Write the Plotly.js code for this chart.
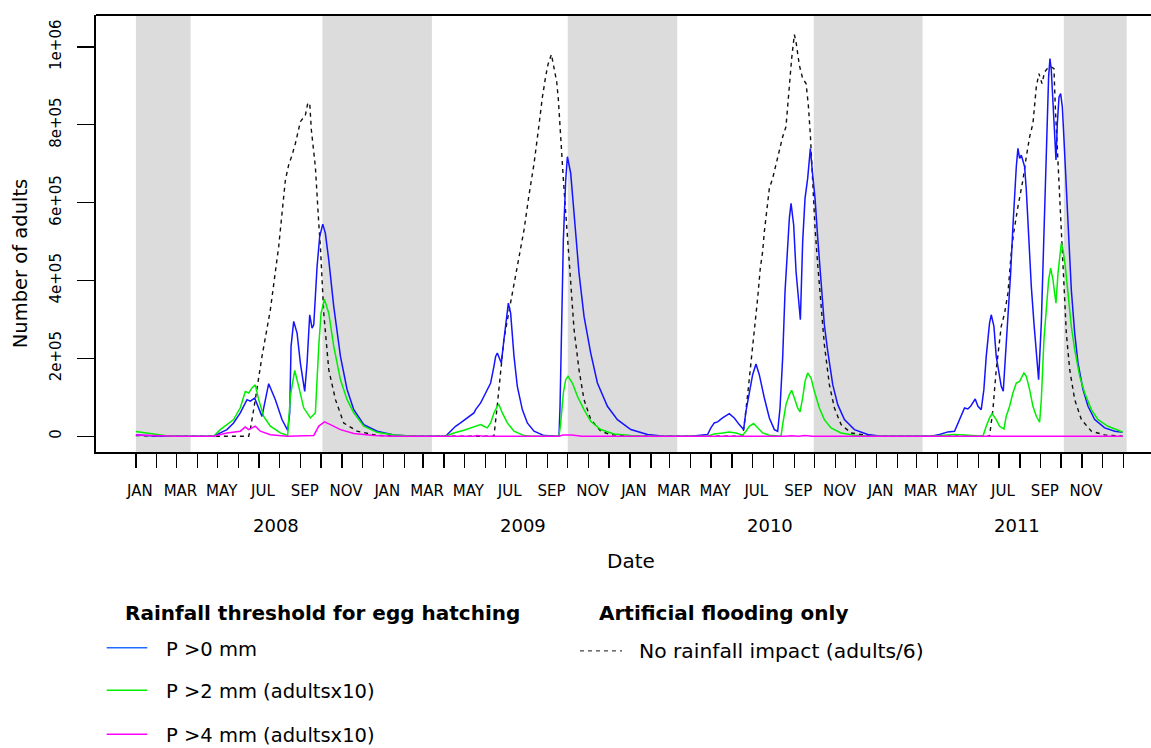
<!DOCTYPE html>
<html>
<head>
<meta charset="utf-8">
<script src="https://cdn.plot.ly/plotly-3.0.1.min.js"></script>
<style>
  html, body { margin: 0; padding: 0; background: #ffffff; }
  #chart { width: 1151px; height: 748px; }
</style>
</head>
<body>
<div id="chart"></div>
<script>
// ---------- data (days since 2008-01-01, values in thousands of adults) ----------
const ORIGIN = Date.UTC(2008, 0, 1);
const UNIT = 1000;

const years = [2008, 2009, 2010, 2011];
const monthLabels = ['JAN', '', 'MAR', '', 'MAY', '', 'JUL', '', 'SEP', '', 'NOV', ''];
const yTickVals = [0, 200000, 400000, 600000, 800000, 1000000];
const yTickText = ['0', '2e+05', '4e+05', '6e+05', '8e+05', '1e+06'];

const shadeStart = ['2008-01-01', '2008-10-03', '2009-10-01', '2010-09-30', '2011-10-05'];
const shadeEnd   = ['2008-03-22', '2009-03-14', '2010-03-12', '2011-03-10', '2012-01-06'];

// P > 0 mm
const blueDays = [0,30,60,115,124.9,134.8,144.6,154.5,164.4,169.3,175.8,186.6,196.5,206.4,216.2,224.6,227.6,229.6,233.5,238.5,243.4,249.8,253.3,257.2,260.7,263.2,268.1,272.0,276.5,280.4,285.4,292.8,302.7,312.5,322.4,337.2,357.0,381.7,411.3,
  458.2,465.6,473.0,480.4,490.3,500.2,502.7,510.1,517.5,524.9,529.8,532.3,534.8,538.2,540.7,544.6,548.6,551.1,554.5,559.5,564.4,571.8,579.2,589.1,603.9,626.1,627.6,629.6,632.5,636.0,638.5,643.4,648.3,655.7,663.1,673.0,682.9,697.7,712.5,732.3,757.0,781.7,
  821.2,845.9,850.8,855.8,860.7,868.1,878.0,885.4,892.8,899.2,902.7,907.6,912.6,917.5,922.4,929.9,937.3,944.7,949.6,953.1,957.0,960.5,963.4,966.9,969.4,973.3,976.8,980.2,983.2,986.6,990.1,994.0,998.0,1001.4,1004.9,1008.9,1013.8,1018.7,1023.7,1031.1,1038.5,1048.4,1063.2,1082.9,1102.7,
  1176.7,1189.1,1201.4,1211.3,1218.7,1226.1,1231.0,1235.0,1241.9,1245.9,1250.8,1254.7,1258.2,1263.1,1265.6,1269.6,1273.0,1276.5,1280.4,1283.4,1286.4,1290.3,1294.3,1297.7,1300.2,1302.7,1305.1,1307.6,1310.1,1312.5,1315.0,1317.5,1320.9,1324.9,1328.8,1332.3,1335.7,1339.7,1343.1,1345.6,1348.6,1350.5,1352.5,1354.5,1357.0,1359.4,1361.4,1363.4,1365.9,1368.3,1370.8,1373.3,1376.7,1380.2,1384.1,1389.1,1394.0,1401.4,1408.8,1418.7,1433.5,1448.3,1460];
const blueValues = [3,0.5,0,0,8.5,17,34,60,94,90,98,51,135,94,43,15,60,231,295,265,188,115,188,312,278,286,436,513,545,521,453,333,205,120,68,30,13,3,0,
  0,12.8,25.6,34.2,47,59.8,68.4,85.5,111.1,136.8,179.5,205.1,213.7,200.9,188,247.9,316.2,341.9,316.2,205.1,128.2,68.4,34.2,12.8,1.7,0,76.9,247.9,504.3,658.1,717.9,675.2,564.1,418.8,307.7,213.7,136.8,76.9,42.7,17.1,4.3,0,
  0,4.3,21.4,34.2,36.8,47,58.1,47,29.9,17.1,64.1,115.4,158.1,185.5,158.1,98.3,47,17.1,12.8,72.6,200.9,371.8,457.3,559.8,598.3,542.7,423.1,346.2,299.1,500,611.1,662.4,739.3,670.9,611.1,508.5,388.9,286.3,217.9,132.5,81.2,42.7,17.1,4.3,0,
  0,4.3,11.1,12.8,42.7,72.6,70.1,76.9,95.7,76.9,68.4,119.7,205.1,290.6,312,282.1,205.1,162.4,128.2,115.4,196.6,307.7,418.8,538.5,632.5,692.3,739.3,713.7,722.2,709.4,692.3,632.5,504.3,384.6,290.6,205.1,145.3,290.6,504.3,692.3,812,923.1,970.1,940.2,846.2,760.7,709.4,803.4,871.8,880.3,846.2,760.7,632.5,504.3,376.1,265,188,119.7,76.9,42.7,21.4,12.8,10.3];

// P > 2 mm (adults x10)
const greenDays = [0,15,30,45,60,115,124.9,134.8,144.6,154.5,161.9,166.9,171.8,176.7,181.7,189.1,199.0,213.8,224.6,228.6,235.0,240.9,248.3,258.2,265.6,270.6,274.0,279.0,285.4,292.8,302.7,312.5,322.4,337.2,357.0,381.7,411.3,
  458.2,470.6,485.4,500.2,510.1,515.0,519.9,524.9,529.8,534.8,537.2,542.2,549.6,559.5,574.3,584.1,626.1,628.6,632.5,636.0,639.4,645.9,653.3,663.1,673.0,687.8,707.6,732.3,757.0,
  845.9,855.8,868.1,878.0,887.9,897.8,902.7,907.6,914.0,920.0,927.4,937.3,954.5,957.0,961.9,966.9,970.3,974.3,979.2,982.7,986.6,990.1,994.0,999.0,1003.9,1011.3,1018.7,1028.6,1043.4,1063.2,1082.9,
  1176.7,1196.5,1211.3,1226.1,1240.9,1253.3,1258.2,1263.1,1267.1,1273.0,1278.0,1284.4,1287.8,1292.8,1297.7,1302.7,1307.6,1314.0,1317.5,1322.4,1327.3,1332.3,1337.2,1339.7,1343.6,1347.1,1350.5,1353.5,1357.0,1359.4,1361.4,1364.4,1366.8,1369.3,1371.8,1375.2,1379.2,1384.1,1389.1,1396.5,1403.9,1413.8,1423.6,1438.4,1453.3,1460];
const greenValues = [12,8,4,1.5,0,0,17,30,43,73,115,111,124,132,94,51,26,8.5,2,103,169,128,73,47,60,231,316,352,316,231,145,94,60,26,10,3,0,
  0,8.5,15.4,23.9,29.9,25.6,21.4,34.2,59.8,76.9,81.2,59.8,34.2,12.8,1.7,0,0,34.2,111.1,145.3,153.8,136.8,102.6,68.4,38.5,17.1,6,1.7,0,
  0,6,8.5,11.1,8.5,2.6,12.8,25.6,32.5,21.4,8.5,2.6,0,29.9,81.2,106.8,117.9,98.3,72.6,62.4,98.3,141,162.4,149.6,115.4,72.6,42.7,21.4,8.5,2.6,0,
  0,1.7,4.3,3.4,1.7,0,25.6,47,58.1,42.7,25.6,18.8,51.3,76.9,111.1,136.8,141,162.4,153.8,119.7,76.9,51.3,35.9,94,247.9,333.3,401.7,431.6,401.7,367.5,341.9,418.8,461.5,495.7,478.6,435.9,367.5,282.1,222.2,153.8,111.1,68.4,42.7,25.6,15.4,10.3];

// P > 4 mm (adults x10)
const magentaDays = [0,30,60,115,134.8,154.5,161.9,166.9,176.7,184.1,199.0,223.6,263.2,270.6,279.0,287.8,302.7,322.4,352.0,381.7,500,505,515,626,632,645,660,960,970,980,990,1000,1460];
const magentaValues = [3,1,0,0,8.5,13,24,17,26,13,4,0,2,26,37,30,17,7,2,0,0,2,0,0,3,3,0,0,1.5,0,2,0,0];

// No rainfall impact (adults/6)
const blackDays = [0,20,40,166.9,169.3,176.7,186.6,199.0,211.3,221.2,226.1,231.1,236.0,243.4,250.8,254.3,257.2,259.7,265.6,270.6,273.0,278.0,285.4,295.3,307.6,327.3,357.0,400,
  529.8,534.8,539.7,544.6,552.0,559.5,566.9,574.3,581.7,589.1,596.5,601.4,606.4,609.8,614.8,618.7,622.7,625.1,628.6,632.5,636.0,639.4,643.4,648.3,655.7,663.1,673.0,687.8,702.7,732.3,
  897.8,900.2,905.2,910.1,915.0,920.0,923.9,927.4,929.9,933.8,937.3,942.2,949.6,954.5,957.0,961.9,964.4,966.9,970.3,974.3,976.8,981.7,986.6,991.6,995.0,998.0,1001.4,1004.9,1008.9,1013.8,1018.7,1026.1,1033.6,1043.4,1058.2,1082.9,1102.7,
  1263.1,1268.1,1273.0,1276.5,1280.4,1285.4,1290.3,1295.2,1298.7,1305.1,1312.5,1317.5,1322.4,1327.3,1332.3,1336.2,1340.7,1344.6,1348.6,1354.5,1358.4,1360.4,1363.4,1366.8,1369.3,1373.3,1376.7,1381.7,1389.1,1399.0,1413.8,1433.5,1460];
const blackValues = [2,1,0,0,17,94,205,325,487,658,697,722,752,808,825,855,856,786,692,547,487,316,171,94,34,13,2,0,
  0,80,170,250,320,390,460,530,620,700,800,870,925,955,981,950,910,865,760,660,575,490,370,275,170,94,43,13,4,0,
  0,29.9,106.8,183.8,269.2,354.7,431.6,474.4,525.6,585.5,636.8,662.4,713.7,747.9,769.2,794.9,850.4,901.7,970.1,1031.6,1012.8,953.0,918.8,906.0,850.4,773.5,645.3,534.2,440.2,329.1,235.0,132.5,72.6,29.9,8.5,1.7,0,
  0,68.4,170.9,222.2,282.1,316.2,367.5,470.1,521.4,589.7,658.1,717.9,769.2,803.4,897.4,931.6,906.0,935.9,944.4,948.7,944.4,846.2,735.0,598.3,521.4,376.1,265,170.9,94,42.7,12.8,3.4,0];

// ---------- helpers ----------
function toDate(d) {
  const t = new Date(ORIGIN + d * 86400000);
  return t.toISOString().slice(0, 19).replace('T', ' ');
}
function series(days, vals) {
  return { x: days.map(toDate), y: vals.map(v => v * UNIT) };
}

const FONT = 'DejaVu Sans, Verdana, sans-serif';
const BLUE = '#1414ff', GREEN = '#00ee00', MAGENTA = '#ff00ff', BLACK = '#111111';

const sB = series(blueDays, blueValues);
const sG = series(greenDays, greenValues);
const sM = series(magentaDays, magentaValues);
const sK = series(blackDays, blackValues);

const traces = [
  { type: 'scatter', mode: 'lines', name: 'No rainfall impact (adults/6)', x: sK.x, y: sK.y,
    line: { color: BLACK, width: 1.4, dash: '4px,4px' }, hoverinfo: 'skip' },
  { type: 'scatter', mode: 'lines', name: 'P >0 mm', x: sB.x, y: sB.y,
    line: { color: BLUE, width: 1.5 }, hoverinfo: 'skip' },
  { type: 'scatter', mode: 'lines', name: 'P >2 mm (adultsx10)', x: sG.x, y: sG.y,
    line: { color: GREEN, width: 1.5 }, hoverinfo: 'skip' },
  { type: 'scatter', mode: 'lines', name: 'P >4 mm (adultsx10)', x: sM.x, y: sM.y,
    line: { color: MAGENTA, width: 1.5 }, hoverinfo: 'skip' }
];

// month ticks (minor = tick marks at month starts, major = labels slightly right)
const monthTicks = [], labelVals = [], labelText = [];
for (let y = 2008; y <= 2012; y++) {
  for (let m = 0; m < 12; m++) {
    if (y === 2012 && m > 0) break;
    const iso = y + '-' + String(m + 1).padStart(2, '0') + '-01';
    monthTicks.push(iso);
    if (y < 2012 && monthLabels[m]) {
      labelVals.push(y + '-' + String(m + 1).padStart(2, '0') + '-07');
      labelText.push(monthLabels[m]);
    }
  }
}

// plot geometry helpers (paper coords from pixel positions)
const PL = 96, PR = 1151, PT = 15, PB = 452.5;
const px = x => (x - PL) / (PR - PL);
const py = y => (PB - y) / (PB - PT);

const shapes = [];
for (let i = 0; i < shadeStart.length; i++) {
  shapes.push({ type: 'rect', xref: 'x', yref: 'paper', x0: shadeStart[i], x1: shadeEnd[i], y0: 0, y1: 1,
    fillcolor: '#dcdcdc', line: { width: 0 }, layer: 'below' });
}
// top border
shapes.push({ type: 'line', xref: 'paper', yref: 'paper', x0: 0, x1: 1, y0: 1, y1: 1, line: { color: '#000', width: 2 } });
// legend samples
shapes.push({ type: 'line', xref: 'paper', yref: 'paper', x0: px(106.7), x1: px(147.3), y0: py(648.5), y1: py(648.5), line: { color: '#1e6cff', width: 1.5 } });
shapes.push({ type: 'line', xref: 'paper', yref: 'paper', x0: px(106.7), x1: px(147.3), y0: py(691), y1: py(691), line: { color: '#00ee00', width: 1.5 } });
shapes.push({ type: 'line', xref: 'paper', yref: 'paper', x0: px(106.7), x1: px(147.3), y0: py(735), y1: py(735), line: { color: '#ff00ff', width: 1.5 } });
shapes.push({ type: 'line', xref: 'paper', yref: 'paper', x0: px(580), x1: px(622), y0: py(651.7), y1: py(651.7), line: { color: '#444', width: 1.2, dash: '4px,4px' } });

const annotations = [];
years.forEach(y => {
  annotations.push({ xref: 'x', yref: 'paper', x: y + '-07-27', y: py(526.5), text: String(y), showarrow: false,
    xanchor: 'center', yanchor: 'middle', font: { family: FONT, size: 18, color: '#000' } });
});
annotations.push({ xref: 'paper', yref: 'paper', x: px(631), y: py(561.5), text: 'Date', showarrow: false,
  xanchor: 'center', yanchor: 'middle', font: { family: FONT, size: 20, color: '#000' } });
annotations.push({ xref: 'paper', yref: 'paper', x: px(20.5), y: py(264), text: 'Number of adults', showarrow: false,
  textangle: -90, xanchor: 'center', yanchor: 'middle', font: { family: FONT, size: 19.5, color: '#000' } });
// legend texts
annotations.push({ xref: 'paper', yref: 'paper', x: px(322.5), y: py(614), text: '<b>Rainfall threshold for egg hatching</b>', showarrow: false,
  xanchor: 'center', yanchor: 'middle', font: { family: FONT, size: 20, color: '#000' } });
annotations.push({ xref: 'paper', yref: 'paper', x: px(723), y: py(614), text: '<b>Artificial flooding only</b>', showarrow: false,
  xanchor: 'center', yanchor: 'middle', font: { family: FONT, size: 20, color: '#000' } });
const legText = [['P >0 mm', 650], ['P >2 mm (adultsx10)', 692.5], ['P >4 mm (adultsx10)', 736.5]];
legText.forEach(([t, yy]) => annotations.push({ xref: 'paper', yref: 'paper', x: px(164), y: py(yy), text: t, showarrow: false,
  xanchor: 'left', yanchor: 'middle', font: { family: FONT, size: 19.5, color: '#000' } }));
annotations.push({ xref: 'paper', yref: 'paper', x: px(637), y: py(651.5), text: 'No rainfall impact (adults/6)', showarrow: false,
  xanchor: 'left', yanchor: 'middle', font: { family: FONT, size: 20.3, color: '#000' } });

const layout = {
  width: 1151, height: 748,
  margin: { l: PL, r: 0, t: PT, b: 748 - PB, pad: 0 },
  paper_bgcolor: '#ffffff', plot_bgcolor: '#ffffff',
  showlegend: false,
  font: { family: FONT, color: '#000' },
  xaxis: {
    type: 'date', range: ['2007-11-03', '2012-02-11'], autorange: false,
    showgrid: false, zeroline: false,
    showline: true, linecolor: '#000', linewidth: 2,
    tickmode: 'array', tickvals: labelVals, ticktext: labelText,
    ticks: '', ticklabelstandoff: 24,
    tickfont: { family: FONT, size: 15, color: '#000' },
    minor: { tickmode: 'array', tickvals: monthTicks, ticks: 'outside', ticklen: 14, tickwidth: 1.3, tickcolor: '#000', showgrid: false }
  },
  yaxis: {
    range: [-40500, 1082100], autorange: false,
    showgrid: false, zeroline: false,
    showline: true, linecolor: '#000', linewidth: 2,
    tickmode: 'array', tickvals: yTickVals, ticktext: yTickText,
    ticks: 'outside', ticklen: 17, tickwidth: 1.3, tickcolor: '#000',
    tickangle: -90, ticklabelstandoff: 10,
    tickfont: { family: FONT, size: 15, color: '#000' }
  },
  shapes: shapes,
  annotations: annotations
};

Plotly.newPlot('chart', traces, layout, { staticPlot: true, displayModeBar: false });
</script>
</body>
</html>
